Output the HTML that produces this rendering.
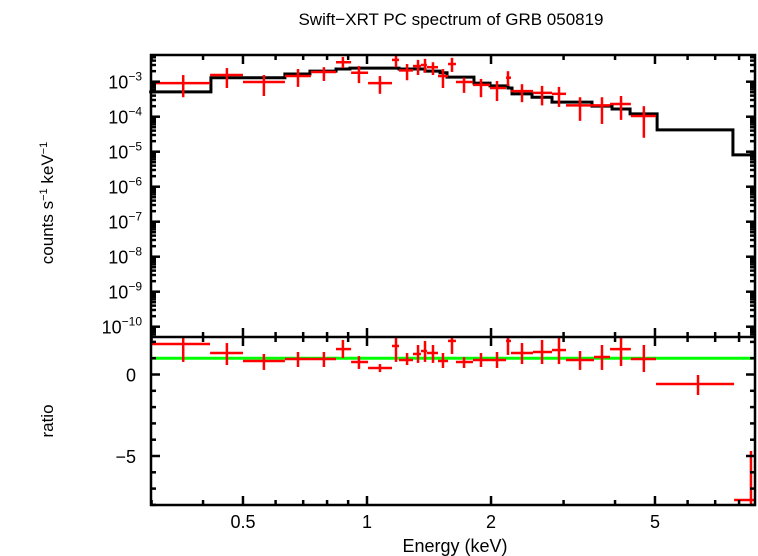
<!DOCTYPE html>
<html><head><meta charset="utf-8"><style>
html,body{margin:0;padding:0;background:#fff;}
svg{display:block;font-family:"Liberation Sans",sans-serif;}
</style></head><body>
<svg id="chart" width="758" height="556" viewBox="0 0 758 556" xmlns="http://www.w3.org/2000/svg">
<text x="451" y="25" font-size="17" text-anchor="middle">Swift−XRT PC spectrum of GRB 050819</text>
<text transform="translate(53,203) rotate(-90)" font-size="17" text-anchor="middle">counts s<tspan font-size="11" dy="-6">−1</tspan><tspan dy="6"> keV</tspan><tspan font-size="11" dy="-6">−1</tspan></text>
<text transform="translate(53,421) rotate(-90)" font-size="17" text-anchor="middle">ratio</text>
<text x="455" y="552" font-size="18" text-anchor="middle">Energy (keV)</text>
<g id="g"></g>
</svg>
<script>
// bins (keV)
const dataCenters=[0.358,0.457,0.562,0.680,0.786,0.874,0.956,1.075,1.176,1.251,1.330,1.383,1.446,1.529,1.608,1.720,1.891,2.068,2.199,2.378,2.660,2.924,3.289,3.718,4.136,4.699,6.36,8.55];
const dataLo=[0.296,0.416,0.500,0.632,0.731,0.841,0.915,1.006,1.150,1.196,1.293,1.352,1.398,1.487,1.573,1.644,1.808,1.989,2.175,2.236,2.529,2.812,3.041,3.556,3.89,4.37,5.03,7.78];
const dataHi=[0.416,0.500,0.632,0.731,0.841,0.915,1.006,1.150,1.196,1.293,1.352,1.398,1.487,1.573,1.644,1.808,1.989,2.175,2.236,2.529,2.812,3.041,3.556,3.89,4.37,5.03,7.78,8.75];
// counts s^-1 keV^-1 (first 26 bins plotted)
const flux=[9.1e-4,1.55e-3,9.8e-4,1.45e-3,1.9e-3,3.6e-3,1.8e-3,9.1e-4,4.2e-3,2.1e-3,2.8e-3,3.0e-3,2.6e-3,1.45e-3,3.2e-3,9.8e-4,8.1e-4,6.6e-4,1.3e-3,5.4e-4,4.8e-4,4.5e-4,2.1e-4,2.1e-4,2.3e-4,1.05e-4];
const fluxHi=[1.55e-3,2.45e-3,1.55e-3,2.3e-3,2.6e-3,5.1e-3,2.8e-3,1.45e-3,5.8e-3,3.2e-3,4.2e-3,4.5e-3,3.6e-3,2.3e-3,4.8e-3,1.3e-3,1.2e-3,1.05e-3,2.0e-3,8.5e-4,7.6e-4,7.1e-4,3.6e-4,3.6e-4,3.9e-4,2.0e-4];
const fluxLo=[3.6e-4,6.6e-4,3.9e-4,7.1e-4,1.05e-3,2.45e-3,9.1e-4,4.5e-4,2.6e-3,1.1e-3,1.55e-3,1.8e-3,1.55e-3,6.6e-4,1.9e-3,4.8e-4,3.6e-4,2.8e-4,7.6e-4,2.6e-4,2.1e-4,1.9e-4,7.6e-5,6.2e-5,8.1e-5,2.5e-5];
// model steps
const modelEdges=[0.296,0.418,0.632,0.727,0.841,0.909,1.196,1.383,1.504,1.564,1.818,1.989,2.199,2.249,2.515,2.812,3.516,3.933,4.35,5.06,7.73,8.75];
const modelValues=[5.1e-4,1.3e-3,1.66e-3,2.0e-3,2.3e-3,2.45e-3,2.3e-3,2.0e-3,1.8e-3,1.35e-3,9.1e-4,7.6e-4,6.6e-4,4.5e-4,3.6e-4,2.6e-4,2.0e-4,1.66e-4,1.2e-4,4.2e-5,8.1e-6];
// ratio
const ratio=[1.87,1.32,0.83,0.95,0.95,1.56,0.77,0.40,1.75,0.89,1.26,1.44,1.32,0.83,2.06,0.77,0.89,0.89,2.06,1.32,1.38,1.50,0.89,1.07,1.56,0.95,-0.58,-7.7];
const ratioHi=[2.36,1.93,1.26,1.38,1.38,2.12,1.13,0.64,2.36,1.32,1.81,2.06,1.81,1.32,2.36,1.07,1.32,1.38,2.36,1.93,2.12,2.36,1.44,1.81,2.36,1.81,-0.03,-4.69];
const ratioLo=[0.77,0.58,0.28,0.46,0.46,1.01,0.34,0.15,0.77,0.58,0.71,0.77,0.71,0.40,1.26,0.40,0.46,0.40,1.20,0.64,0.64,0.64,0.28,0.28,0.52,0.15,-1.26,-8.2];
const xTickLabels=["0.5","1","2","5"];
const xTickValues=[0.5,1,2,5];
const xMinorValues=[0.3,0.4,0.6,0.7,0.8,0.9,3,4,6,7,8];
const yExps=[-3,-4,-5,-6,-7,-8,-9,-10];
const ratioTicks=[0,-5];

const NS="http://www.w3.org/2000/svg";
const g=document.getElementById('g');
const L=151,R=755,T1=55,B1=337,B2=505;
const X=e=>367+412*Math.log10(e);
const Y1=f=>81.7-35*(Math.log10(f)+3);
const Y2=r=>374.5-16.3*r;
const clip=(v,a,b)=>Math.max(a,Math.min(b,v));
function mk(tag,attrs,parent){const el=document.createElementNS(NS,tag);for(const k in attrs)el.setAttribute(k,attrs[k]);(parent||g).appendChild(el);return el;}

// model
let d='';
for(let i=0;i<modelValues.length;i++){const y=clip(Y1(modelValues[i]),T1,B1);d+=(i?'L':'M')+X(modelEdges[i])+','+y+'L'+X(modelEdges[i+1])+','+y;}
const model=mk('path',{d:d,fill:'none',stroke:'#000','stroke-width':3});



// top data
for(let i=0;i<flux.length;i++){
  const grp=mk('g',{stroke:'#f00','stroke-width':2.5});
  
  
  const yc=Y1(flux[i]);
  mk('line',{x1:clip(X(dataLo[i]),L,R),x2:clip(X(dataHi[i]),L,R),y1:yc,y2:yc},grp);
  mk('line',{x1:X(dataCenters[i]),x2:X(dataCenters[i]),y1:clip(Y1(fluxHi[i]),T1,B1),y2:clip(Y1(fluxLo[i]),T1,B1)},grp);
}
// green unity line
const gl=mk('line',{x1:L,x2:R,y1:Y2(1),y2:Y2(1),stroke:'#0f0','stroke-width':3});


// ratio
for(let i=0;i<ratio.length;i++){
  const grp=mk('g',{stroke:'#f00','stroke-width':2.5});
  
  
  const yc=clip(Y2(ratio[i]),B1,B2-1);
  mk('line',{x1:clip(X(dataLo[i]),L,R),x2:clip(X(dataHi[i]),L,R),y1:yc,y2:yc},grp);
  mk('line',{x1:X(dataCenters[i]),x2:X(dataCenters[i]),y1:clip(Y2(ratioHi[i]),B1,B2),y2:clip(Y2(ratioLo[i]),B1,B2)},grp);
}
// frames
const ax=mk('g',{stroke:'#000','stroke-width':2.5,fill:'none'});


mk('rect',{x:L,y:T1,width:R-L,height:B2-T1},ax);
mk('line',{x1:L,x2:R,y1:B1,y2:B1},ax);
// x ticks
function xt(v,len){const x=X(v);[[T1,1],[B1,-1],[B1,1],[B2,-1]].forEach(([y,s])=>mk('line',{x1:x,x2:x,y1:y,y2:y+s*len},ax));}
xTickValues.forEach(v=>xt(v,9));
xMinorValues.forEach(v=>xt(v,5));
xTickLabels.forEach((t,i)=>{const tx=mk('text',{x:X(xTickValues[i]),y:528,'font-size':18,'text-anchor':'middle'});tx.textContent=t;});
// y ticks top (log)
for(let e=-11;e<=-3;e++){
  for(let m=1;m<10;m++){
    const y=Y1(m*Math.pow(10,e));if(y<T1||y>B1)continue;
    const len=m===1?9:5;
    mk('line',{x1:L,x2:L+len,y1:y,y2:y},ax);mk('line',{x1:R,x2:R-len,y1:y,y2:y},ax);
  }
}
yExps.forEach(e=>{const y=Y1(Math.pow(10,e));const tx=mk('text',{x:142,y:y+7,'font-size':18,'text-anchor':'end'});
  tx.innerHTML='10<tspan font-size="12" dy="-8">−'+(-e)+'</tspan>';
  });
// ratio ticks
for(let r=-8;r<=2;r++){const y=Y2(r);const len=(r%5===0)?9:5;mk('line',{x1:L,x2:L+len,y1:y,y2:y},ax);mk('line',{x1:R,x2:R-len,y1:y,y2:y},ax);}
ratioTicks.forEach(r=>{const tx=mk('text',{x:136,y:Y2(r)+7,'font-size':18,'text-anchor':'end'});tx.textContent=r<0?'−'+(-r):String(r);});
</script>
</body></html>
